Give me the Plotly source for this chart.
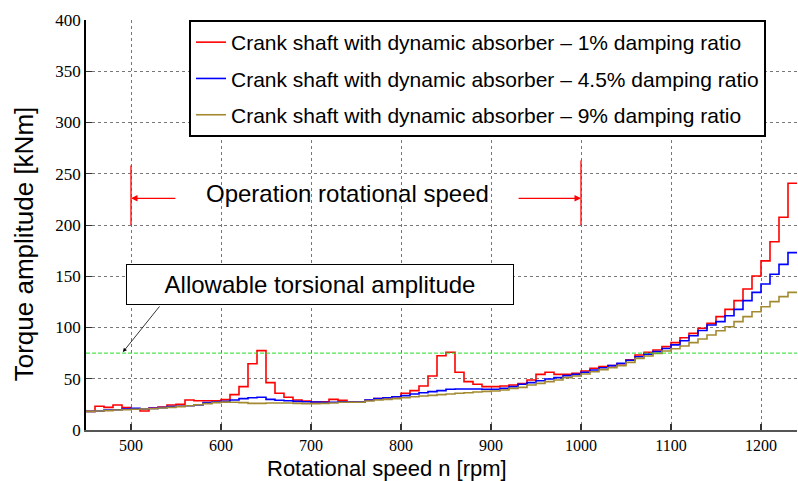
import plotly.graph_objects as go

# Rotational speed bins [rpm] (step start)
speed = list(range(450, 1240, 10))

damp_1 = [18.2, 23.1, 22.1, 24.4, 21.8, 20.5, 18.5, 21.5, 22.4, 24.4,
          25.0, 29.3, 28.6, 28.6, 28.5, 29.6, 34.5, 42.3, 64.7, 77.4,
          46.2, 35.8, 31.9, 29.3, 28.3, 27.3, 27.6, 29.9, 29.0, 27.2,
          27.0, 29.0, 30.6, 31.5, 32.5, 35.8, 38.4, 42.9, 52.7, 72.5,
          75.8, 56.3, 47.2, 44.6, 42.3, 42.3, 42.9, 43.9, 45.2, 48.8,
          54.3, 56.3, 54.3, 54.3, 55.3, 57.6, 60.2, 61.8, 62.8, 64.7,
          68.5, 73.2, 75.8, 78.0, 81.3, 85.2, 90.0, 94.3, 99.2, 104.0,
          110.6, 117.7, 126.2, 137.6, 150.2, 165.0, 183.7, 207.5, 240.7]

damp_45 = [18.2, 18.5, 19.5, 19.8, 20.5, 21.1, 20.5, 21.1, 21.8, 22.8,
           23.1, 23.7, 24.4, 26.7, 27.3, 27.9, 29.3, 30.6, 31.5, 31.9,
           29.9, 29.0, 28.6, 27.9, 27.6, 27.3, 27.0, 27.0, 27.6, 27.3,
           27.3, 29.3, 30.6, 31.5, 32.5, 33.5, 35.1, 36.4, 37.4, 38.4,
           39.7, 40.0, 40.0, 40.0, 39.7, 39.7, 40.6, 42.3, 44.6, 46.2,
           48.1, 49.8, 51.1, 53.0, 54.3, 56.3, 58.5, 60.8, 62.8, 65.0,
           68.0, 71.5, 74.0, 76.5, 79.5, 83.0, 87.0, 92.0, 97.0, 102.4,
           105.7, 111.5, 117.7, 126.2, 134.3, 142.4, 151.9, 161.6, 173.0]

damp_9 = [18.2, 18.5, 18.9, 19.5, 19.8, 20.2, 20.5, 20.8, 21.5, 22.1,
          22.8, 23.7, 24.7, 25.7, 26.7, 27.2, 27.0, 26.7, 26.0, 26.0,
          26.3, 26.3, 26.3, 26.0, 25.7, 25.7, 26.0, 26.3, 27.0, 27.0,
          27.0, 28.3, 29.3, 29.9, 30.6, 31.5, 32.5, 33.2, 33.8, 34.5,
          35.1, 35.8, 36.4, 37.1, 37.7, 38.0, 39.0, 40.6, 41.6, 43.9,
          45.5, 47.2, 48.8, 51.1, 52.7, 54.6, 56.9, 58.9, 60.8, 62.8,
          66.0, 69.9, 72.2, 74.8, 77.0, 79.3, 82.0, 85.2, 88.8, 92.7,
          96.9, 100.8, 105.7, 110.6, 115.4, 120.3, 125.2, 130.1, 134.3]

series_names = ["Crank shaft with dynamic absorber \u2013 1% damping ratio",
                "Crank shaft with dynamic absorber \u2013 4.5% damping ratio",
                "Crank shaft with dynamic absorber \u2013 9% damping ratio"]
series_colors = ["#FF0000", "#0000FF", "#A38A30"]

x_ticks = [500, 600, 700, 800, 900, 1000, 1100, 1200]
y_ticks = [0, 50, 100, 150, 200, 250, 300, 350, 400]

allowable = 75
op_start, op_end = 500, 1000

x_end = speed[-1] + 10
xs = speed + [x_end]

fig = go.Figure()
for name, vals, col, grp in zip(series_names, [damp_1, damp_45, damp_9], series_colors, ["a", "b", "c"]):
    fig.add_trace(go.Scatter(x=xs, y=vals + [vals[-1]], mode="lines", line_shape="hv",
                             line=dict(color=col, width=1.6), name=name, legendgroup=grp))

# allowable amplitude line
fig.add_trace(go.Scatter(x=[450, x_end], y=[allowable, allowable], mode="lines",
                         line=dict(color="#22DD22", width=1, dash="4px,2px"), showlegend=False))

shapes = [
    dict(type="line", xref="x", yref="y", x0=op_start, x1=op_start, y0=200, y1=258,
         line=dict(color="red", width=1.3)),
    dict(type="line", xref="x", yref="y", x0=op_end, x1=op_end, y0=200, y1=263,
         line=dict(color="red", width=1.3)),
]

annotations = [
    dict(x=op_start, y=226, ax=551, ay=226, xref="x", yref="y", axref="x", ayref="y",
         text="", showarrow=True, arrowhead=2, arrowsize=1, arrowwidth=1.3, arrowcolor="red"),
    dict(x=op_end, y=226, ax=929, ay=226, xref="x", yref="y", axref="x", ayref="y",
         text="", showarrow=True, arrowhead=2, arrowsize=1, arrowwidth=1.3, arrowcolor="red"),
    dict(x=741, y=231, xref="x", yref="y", text="Operation rotational speed", showarrow=False,
         xanchor="center", yanchor="middle",
         font=dict(family="Liberation Sans", size=24, color="black")),
    dict(x=710, y=141.5, xref="x", yref="y", text="Allowable torsional amplitude", showarrow=False,
         xanchor="center", yanchor="middle",
         font=dict(family="Liberation Sans", size=24, color="black"),
         bgcolor="white", bordercolor="black", borderwidth=1, borderpad=3, width=380, height=33),
    dict(x=491, y=76, ax=533, ay=122, xref="x", yref="y", axref="x", ayref="y",
         text="", showarrow=True, arrowhead=2, arrowsize=1, arrowwidth=0.8, arrowcolor="black"),
    dict(x=-0.088, y=0.454, xref="paper", yref="paper", text="Torque amplitude [kNm]",
         textangle=-90, showarrow=False, xanchor="center", yanchor="middle",
         font=dict(family="Liberation Sans", size=26, color="black")),
    dict(x=(387 - 86) / 711, y=-0.093, xref="paper", yref="paper", text="Rotational speed n [rpm]",
         showarrow=False, xanchor="center", yanchor="middle",
         font=dict(family="Liberation Sans", size=22, color="black")),
]

fig.update_layout(
    width=798, height=481,
    margin=dict(l=86, r=1, t=20, b=51),
    paper_bgcolor="white", plot_bgcolor="white",
    shapes=shapes, annotations=annotations,
    showlegend=True,
    legend=dict(x=(189 - 86) / 711, y=1, xanchor="left", yanchor="top",
                bgcolor="white", bordercolor="black", borderwidth=2,
                font=dict(family="Liberation Sans", size=21, color="black"),
                tracegroupgap=6, itemwidth=30),
    xaxis=dict(range=[450, 1240], tickvals=x_ticks, ticks="inside", ticklen=6, tickwidth=1.5,
               tickcolor="#333", showline=True, linecolor="#555", linewidth=2,
               showgrid=True, gridcolor="#777", griddash="dot", gridwidth=1, zeroline=False,
               tickfont=dict(family="Liberation Serif", size=16, color="black")),
    yaxis=dict(range=[0, 400], tickvals=y_ticks, ticks="inside", ticklen=6, tickwidth=1.2,
               tickcolor="#333", showline=True, linecolor="black", linewidth=1.5,
               showgrid=True, gridcolor="#777", griddash="dot", gridwidth=1, zeroline=False,
               tickfont=dict(family="Liberation Serif", size=17, color="black")),
)

fig.write_html("out.html", config={"displayModeBar": False},
               post_script="document.body.style.margin='0';document.body.style.overflow='hidden';")
